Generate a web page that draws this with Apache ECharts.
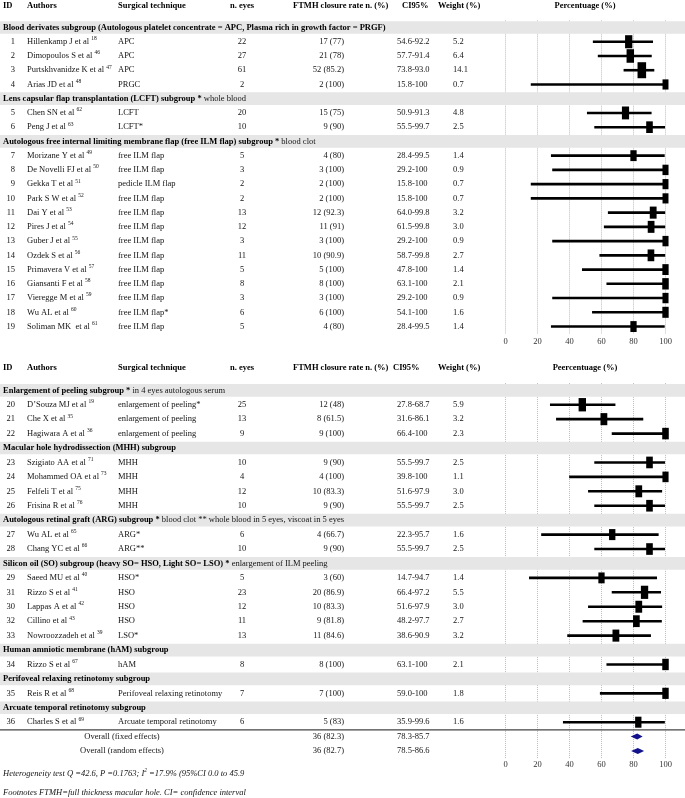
<!DOCTYPE html>
<html><head><meta charset="utf-8">
<script src="https://cdn.jsdelivr.net/npm/echarts@6/dist/echarts.min.js"></script>
<style>html,body{margin:0;padding:0;background:#fff}#c{width:685px;height:798px}</style>
</head><body><div id="c"></div>
<script>
// ---------------- DATA ----------------
const subgroupTitles = [
  'Blood derivates subgroup (Autologous platelet concentrate = APC, Plasma rich in growth factor = PRGF)',
  'Lens capsular flap transplantation (LCFT) subgroup *',
  'Autologous free internal limiting membrane flap (free ILM flap) subgroup *',
  'Enlargement of peeling subgroup *',
  'Macular hole hydrodissection (MHH) subgroup',
  'Autologous retinal graft (ARG) subgroup *',
  'Silicon oil (SO) subgroup (heavy SO= HSO, Light SO= LSO) *',
  'Human amniotic membrane (hAM) subgroup',
  'Perifoveal relaxing retinotomy subgroup',
  'Arcuate temporal retinotomy subgroup'
];
const subgroupNotes = ['', ' whole blood', ' blood clot', ' in 4 eyes autologous serum', '',
  ' blood clot ** whole blood in 5 eyes, viscoat in 5 eyes', ' enlargement of ILM peeling', '', '', ''];
const subgroupSizes = [4, 2, 13, 3, 4, 2, 5, 1, 1, 1];
const subgroupPanel = [0, 0, 0, 1, 1, 1, 1, 1, 1, 1];

const studyIds = [1,2,3,4,5,6,7,8,9,10,11,12,13,14,15,16,17,18,19,
  20,21,22,23,24,25,26,27,28,29,31,30,32,33,34,35,36];
const authors = ['Hillenkamp J et al','Dimopoulos S et al','Purtskhvanidze K et al','Arias JD et al',
  'Chen SN et al','Peng J et al','Morizane Y et al','De Novelli FJ et al','Gekka T et al','Park S W et al',
  'Dai Y et al','Pires J et al','Guber J et al','Ozdek S et al','Primavera V et al','Giansanti F et al',
  'Vieregge M et al','Wu AL et al','Soliman MK  et al',
  'D\u2019Souza MJ et al','Che X et al','Hagiwara A et al','Szigiato AA et al','Mohammed OA et al',
  'Felfeli T et al','Frisina R et al','Wu AL et al','Chang YC et al','Saeed MU et al','Rizzo S et al',
  'Lappas A et al','Cillino et al','Nowroozzadeh et al','Rizzo S et al','Reis R et al','Charles S et al'];
const refs = [18,46,47,48,62,63,49,50,51,52,53,54,55,56,57,58,59,60,61,
  19,35,36,71,73,75,76,65,66,40,41,42,43,39,67,68,69];
const techniques = ['APC','APC','APC','PRGC','LCFT','LCFT*','free ILM flap','free ILM flap','pedicle ILM flap',
  'free ILM flap','free ILM flap','free ILM flap','free ILM flap','free ILM flap','free ILM flap','free ILM flap',
  'free ILM flap','free ILM flap*','free ILM flap',
  'enlargement of peeling*','enlargement of peeling','enlargement of peeling','MHH','MHH','MHH','MHH',
  'ARG*','ARG**','HSO*','HSO','HSO','HSO','LSO*','hAM','Perifoveal relaxing retinotomy','Arcuate temporal retinotomy'];
const eyes = [22,27,61,2,20,10,5,3,2,2,13,12,3,11,5,8,3,6,5,
  25,13,9,10,4,12,10,6,10,5,23,12,11,13,8,7,6];
const closedEyes = [17,21,52,2,15,9,4,3,2,2,12,11,3,10,5,8,3,6,4,
  12,8,9,9,4,10,9,4,9,3,20,10,9,11,8,7,5];
const closureRate = [77,78,85.2,100,75,90,80,100,100,100,92.3,91,100,90.9,100,100,100,100,80,
  48,61.5,100,90,100,83.3,90,66.7,90,60,86.9,83.3,81.8,84.6,100,100,83];
// point estimates as drawn in the plot
const plotEstimate = [77,78,85.2,100,75,90,80,100,100,100,92.3,91,100,90.9,100,100,100,100,80,
  48,61.5,100,90,100,83.3,90,66.7,90,60,86.9,83.3,81.8,69,100,100,83];
const ciLow = [54.6,57.7,73.8,15.8,50.9,55.5,28.4,29.2,15.8,15.8,64.0,61.5,29.2,58.7,47.8,63.1,29.2,54.1,28.4,
  27.8,31.6,66.4,55.5,39.8,51.6,55.5,22.3,55.5,14.7,66.4,51.6,48.2,38.6,63.1,59.0,35.9];
const ciHigh = [92.2,91.4,93.0,100,91.3,99.7,99.5,100,100,100,99.8,99.8,100,99.8,100,100,100,100,99.5,
  68.7,86.1,100,99.7,100,97.9,99.7,95.7,99.7,94.7,97.2,97.9,97.7,90.9,100,100,99.6];
const weights = [5.2,6.4,14.1,0.7,4.8,2.5,1.4,0.9,0.7,0.7,3.2,3.0,0.9,2.7,1.4,2.1,0.9,1.6,1.4,
  5.9,3.2,2.3,2.5,1.1,3.0,2.5,1.6,2.5,1.4,5.5,3.0,2.7,3.2,2.1,1.8,1.6];

const overallLabels = ['Overall (fixed effects)', 'Overall (random effects)'];
const overallN = [36, 36];
const overallRate = [82.3, 82.7];
const overallLow = [78.3, 78.5];
const overallHigh = [85.7, 86.6];

const headerLabels = ['ID','Authors','Surgical technique','n. eyes','FTMH closure rate n. (%)','CI95%','Weight (%)'];
const plotTitles = ['Percentuage (%)', 'Peercentuage (%)'];
const xTickValues = [0, 20, 40, 60, 80, 100];
const heterogeneityText = ['Heterogeneity test Q =42.6, P =0.1763; I', '2', ' =17.9% (95%CI 0.0 to 45.9'];
const footnoteText = 'Footnotes FTMH=full thickness macular hole. CI= confidence interval';

// ---------------- LAYOUT / STYLE ----------------
const FF = '"Liberation Serif", "Times New Roman", serif';
const FS = 8.5;
const TXT = '#141414';
const rowStep = [14.24, 14.43];
const firstCenter = [27.5, 390.3];

// build rows per panel
const panels = [[], []];
(function () {
  let s = 0;
  subgroupSizes.forEach((n, g) => {
    const p = subgroupPanel[g];
    panels[p].push({ kind: 'band', g });
    for (let k = 0; k < n; k++) panels[p].push({ kind: 'study', i: s++ });
  });
  overallLabels.forEach((_, k) => panels[1].push({ kind: 'overall', k }));
})();

const fmt1 = v => v === 100 ? '100' : v.toFixed(1);

function textEl(x, y, text, align, extra) {
  return { type: 'text', style: Object.assign({ x, y, text, align, verticalAlign: 'middle',
    fontSize: FS, fontFamily: FF, fill: TXT }, extra || {}) };
}

function tableRender(p) {
  return function (params, api) {
    const row = panels[p][params.dataIndex];
    const y = api.coord([0, api.value(1)])[1];
    const h = api.size([0, 1])[1];
    const W = api.getWidth();
    const kids = [];
    if (row.kind === 'band') {
      kids.push({ type: 'rect', shape: { x: 0, y: y - 6.35, width: W, height: 12.7 }, style: { fill: '#e6e6e6' } });
      const note = subgroupNotes[row.g];
      kids.push(textEl(3, y, '{b|' + subgroupTitles[row.g] + '}' + (note ? '{n|' + note + '}' : ''), 'left', {
        rich: { b: { fontSize: FS, fontFamily: FF, fontWeight: 'bold', fill: '#000' },
                n: { fontSize: FS, fontFamily: FF, fill: TXT } } }));
    } else if (row.kind === 'study') {
      const i = row.i;
      kids.push(textEl(15, y, String(studyIds[i]), 'right'));
      kids.push(textEl(27, y, '{a|' + authors[i] + ' }{s|' + refs[i] + '}', 'left', {
        rich: { a: { fontSize: FS, fontFamily: FF, fill: TXT, lineHeight: 12 },
                s: { fontSize: 5.5, fontFamily: FF, fill: TXT, lineHeight: 7, verticalAlign: 'top' } } }));
      kids.push(textEl(118, y, techniques[i], 'left'));
      kids.push(textEl(242, y, String(eyes[i]), 'center'));
      kids.push(textEl(344, y, closedEyes[i] + ' (' + closureRate[i] + ')', 'right'));
      kids.push(textEl(397, y, fmt1(ciLow[i]) + '-' + fmt1(ciHigh[i]), 'left'));
      kids.push(textEl(453, y, weights[i].toFixed(1), 'left'));
    } else {
      const k = row.k;
      if (k === 0) {
        kids.push({ type: 'line', shape: { x1: 0, y1: y - h / 2 + 0.5, x2: W, y2: y - h / 2 + 0.5 },
          style: { stroke: '#444', lineWidth: 1.3 } });
      }
      kids.push(textEl(122, y, overallLabels[k], 'center'));
      kids.push(textEl(344, y, overallN[k] + ' (' + overallRate[k] + ')', 'right'));
      kids.push(textEl(397, y, fmt1(overallLow[k]) + '-' + fmt1(overallHigh[k]), 'left'));
    }
    return { type: 'group', children: kids };
  };
}

function forestData(p) {
  return panels[p].map((r, idx) => {
    if (r.kind === 'study') return [plotEstimate[r.i], idx, ciLow[r.i], ciHigh[r.i], weights[r.i], 0];
    if (r.kind === 'overall') return [overallRate[r.k], idx, overallLow[r.k], overallHigh[r.k], 0, 1];
    return null;
  }).filter(d => d);
}

function forestRender(params, api) {
  const yv = api.value(1);
  const c = api.coord([api.value(0), yv]);
  const lo = api.coord([api.value(2), yv]);
  const hi = api.coord([api.value(3), yv]);
  if (api.value(5) === 1) {
    const hh = 3;
    return { type: 'polygon', shape: { points: [[lo[0], c[1]], [c[0], c[1] - hh], [hi[0], c[1]], [c[0], c[1] + hh]] },
      style: { fill: '#12128c' } };
  }
  const wt = api.value(4);
  const sw = 5.2 + 0.9 * Math.sqrt(wt), sh = 8.5 + 2 * Math.sqrt(wt);
  return { type: 'group', children: [
    { type: 'line', shape: { x1: lo[0], y1: c[1], x2: hi[0], y2: c[1] }, style: { stroke: '#000', lineWidth: 2.6 } },
    { type: 'rect', shape: { x: c[0] - sw / 2, y: c[1] - sh / 2, width: sw, height: sh }, style: { fill: '#000' } }
  ] };
}

const xAxisBase = (gi, margin) => ({
  type: 'value', gridIndex: gi, min: xTickValues[0], max: xTickValues[xTickValues.length - 1],
  interval: xTickValues[1] - xTickValues[0],
  axisLine: { show: false }, axisTick: { show: false },
  axisLabel: { fontSize: FS, fontFamily: FF, color: '#333', margin },
  splitLine: { show: true, lineStyle: { type: 'dotted', color: '#bdbdbd', width: 1 } }
});

const headerX = [
  { x: 3, align: 'left' }, { x: 27, align: 'left' }, { x: 118, align: 'left' }, { x: 242, align: 'center' },
  { x: 293, align: 'left' }, { x: 402, align: 'left' }, { x: 438, align: 'left' }
];
const headerY = [6, 368];
const graphics = [];
headerY.forEach((hy, p) => {
  headerLabels.forEach((lab, j) => {
    let x = headerX[j].x;
    if (p === 1 && j === 5) x = 393;
    graphics.push({ type: 'text', x, y: hy, style: { text: lab, fontSize: FS, fontFamily: FF, fontWeight: 'bold',
      fill: '#000', align: headerX[j].align, verticalAlign: 'middle' } });
  });
  graphics.push({ type: 'text', x: 585, y: hy, style: { text: plotTitles[p], fontSize: FS, fontFamily: FF,
    fontWeight: 'bold', fill: '#000', align: 'center', verticalAlign: 'middle' } });
});
graphics.push({ type: 'text', x: 3, y: 773.5, style: {
  text: '{i|' + heterogeneityText[0] + '}{s|' + heterogeneityText[1] + '}{i|' + heterogeneityText[2] + '}',
  align: 'left', verticalAlign: 'middle', fill: TXT,
  rich: { i: { fontSize: FS, fontFamily: FF, fontStyle: 'italic', fill: TXT, lineHeight: 12 },
          s: { fontSize: 5.5, fontFamily: FF, fontStyle: 'italic', fill: TXT, lineHeight: 7, verticalAlign: 'top' } } } });
graphics.push({ type: 'text', x: 3, y: 792.5, style: { text: footnoteText, fontSize: FS, fontFamily: FF,
  fontStyle: 'italic', fill: TXT, align: 'left', verticalAlign: 'middle' } });

const chart = echarts.init(document.getElementById('c'), null, { renderer: 'canvas' });
chart.setOption({
  animation: false,
  backgroundColor: '#fff',
  grid: [0, 1].map(p => ({ left: 505.5, width: 160, top: firstCenter[p] - rowStep[p] / 2,
    height: rowStep[p] * panels[p].length })),
  xAxis: [xAxisBase(0, 4), xAxisBase(1, 2)],
  yAxis: [0, 1].map(p => ({ type: 'category', gridIndex: p, inverse: true, show: false,
    data: panels[p].map((_, i) => String(i)) })),
  graphic: graphics,
  series: [
    { type: 'custom', xAxisIndex: 0, yAxisIndex: 0, clip: false, silent: true, z: 1,
      data: panels[0].map((_, i) => [0, i]), renderItem: tableRender(0) },
    { type: 'custom', xAxisIndex: 1, yAxisIndex: 1, clip: false, silent: true, z: 1,
      data: panels[1].map((_, i) => [0, i]), renderItem: tableRender(1) },
    { type: 'custom', xAxisIndex: 0, yAxisIndex: 0, clip: false, silent: true, z: 3,
      data: forestData(0), renderItem: forestRender },
    { type: 'custom', xAxisIndex: 1, yAxisIndex: 1, clip: false, silent: true, z: 3,
      data: forestData(1), renderItem: forestRender }
  ]
});
</script></body></html>
